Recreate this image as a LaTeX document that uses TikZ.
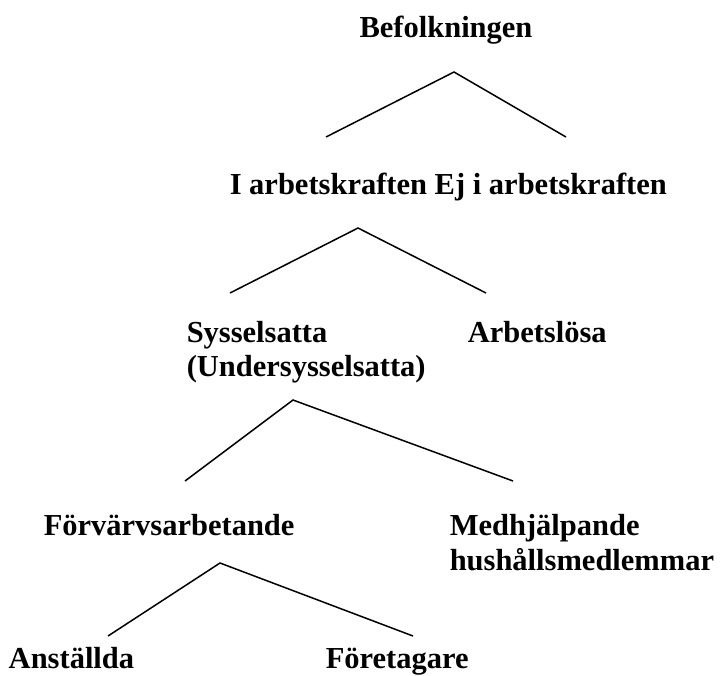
\documentclass[tikz,border=0pt]{standalone}
\usepackage{fontspec}
\setmainfont{Liberation Serif}
\tikzset{termtext/.style={font=\fontsize{30.5}{36}\selectfont\bfseries, inner sep=0pt, anchor=base west, align=left}}
\begin{document}
\begin{tikzpicture}[x=1pt,y=-1pt,line width=1.5pt]
    \useasboundingbox (0,0) rectangle (727,675);
    \node[termtext,anchor=base] (befolkning) at (446,37) {Befolkningen};
    \node[termtext] (arbetskraft) at (229,194) {I arbetskraften Ej i arbetskraften};
    \node[termtext] (sysselsatta) at (186,342) {Sysselsatta};
    \node[termtext] (undersyssel) at (186,376) {(Undersysselsatta)};
    \node[termtext] (arbetslosa) at (467,342) {Arbetslösa};
    \node[termtext] (forvarv) at (43,535) {Förvärvsarbetande};
    \node[termtext] (medhjalp) at (449,535) {Medhjälpande};
    \node[termtext] (hushall) at (449,570) {hushållsmedlemmar};
    \node[termtext] (anstallda) at (8,668) {Anställda};
    \node[termtext] (foretagare) at (325,668) {Företagare};
    \coordinate (topA) at (454,72);
    \coordinate (topL) at (326,137);
    \coordinate (topR) at (566,137);
    \coordinate (krA) at (358,228);
    \coordinate (krL) at (230,293);
    \coordinate (krR) at (486,293);
    \coordinate (syA) at (293,400);
    \coordinate (syL) at (185,481);
    \coordinate (syR) at (513,481);
    \coordinate (fvA) at (220,563);
    \coordinate (fvL) at (108,636);
    \coordinate (fvR) at (413,636);
    \draw (topL) -- (topA) -- (topR);
    \draw (krL) -- (krA) -- (krR);
    \draw (syL) -- (syA) -- (syR);
    \draw (fvL) -- (fvA) -- (fvR);
\end{tikzpicture}
\end{document}
